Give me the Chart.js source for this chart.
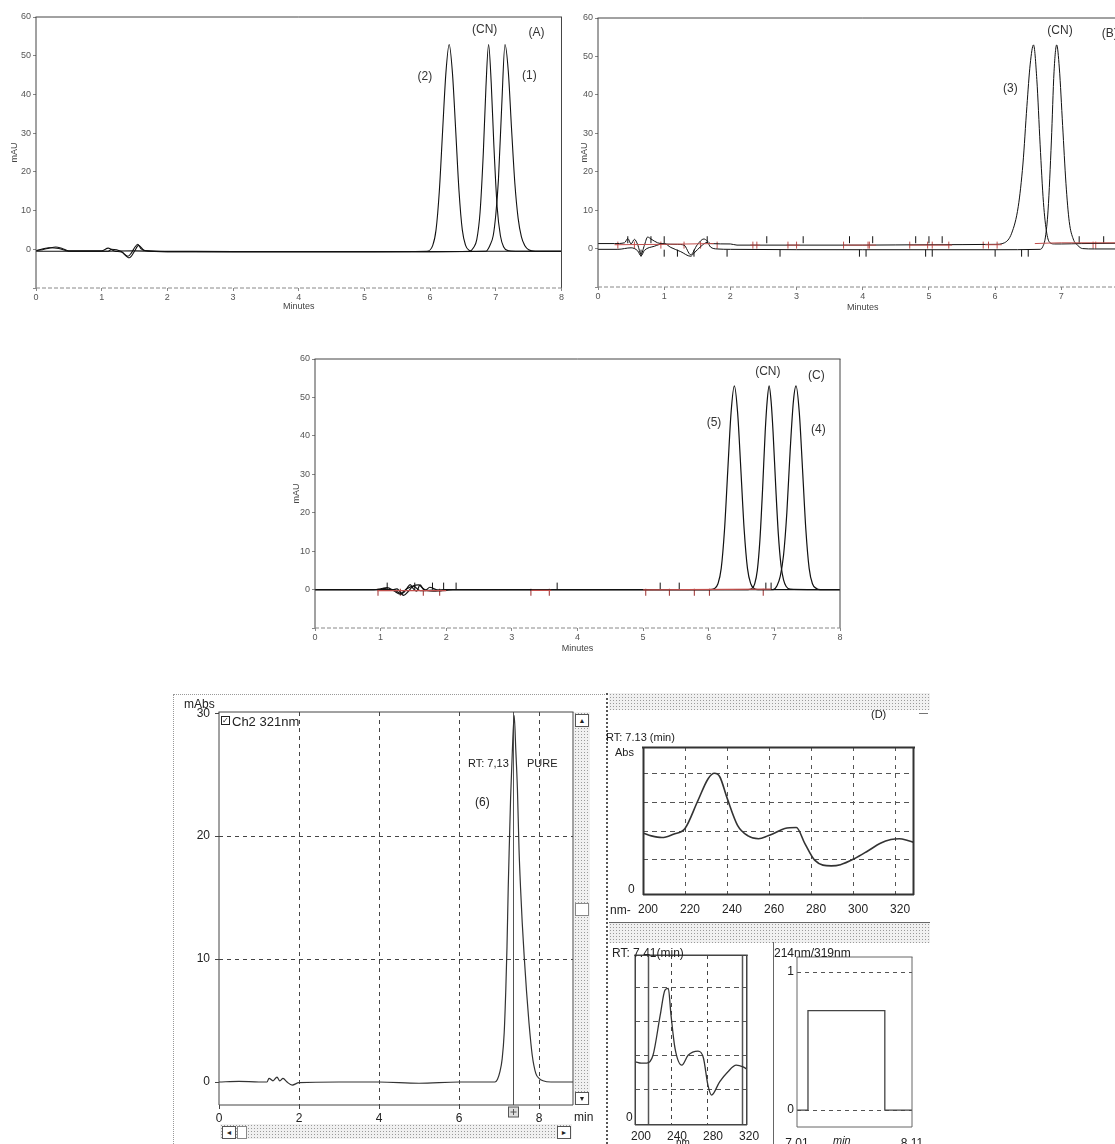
<!DOCTYPE html>
<html><head><meta charset="utf-8">
<script src="https://cdn.jsdelivr.net/npm/chart.js@4.4.0/dist/chart.umd.min.js"></script>
<style>
html,body{margin:0;padding:0;background:#fff;width:1115px;height:1144px;overflow:hidden;position:relative;font-family:'Liberation Sans',Arial,sans-serif;color:#222;}
canvas{position:absolute;z-index:2;}
.t{position:absolute;white-space:nowrap;z-index:3;line-height:1;}
.stip{position:absolute;z-index:1;background-color:#f0f0f0;background-image:radial-gradient(#9a9a9a 0.6px, transparent 0.9px);background-size:3px 3px;}
.ln{position:absolute;z-index:1;}
.btn{position:absolute;z-index:3;background:#fff;border:1px solid #555;font-size:7px;line-height:11px;text-align:center;color:#222;}
</style></head><body>

<canvas id="cA" width="565" height="320" style="left:0;top:0"></canvas>
<canvas id="cB" width="570" height="320" style="left:562px;top:0"></canvas>
<canvas id="cC" width="570" height="320" style="left:280px;top:340px"></canvas>
<canvas id="cD" width="450" height="454" style="left:160px;top:690px"></canvas>
<canvas id="cS1" width="323" height="226" style="left:607px;top:693px"></canvas>
<canvas id="cS2" width="166" height="202" style="left:607px;top:942px"></canvas>
<canvas id="cP" width="157" height="202" style="left:773px;top:942px"></canvas>

<!-- D window decorations -->
<div class="ln" style="left:173px;top:694px;width:434px;height:0;border-top:1px dotted #999"></div>
<div class="ln" style="left:173px;top:694px;width:0;height:450px;border-left:1px dotted #999"></div>
<div class="ln" style="left:606px;top:693px;width:0;height:451px;border-left:2px dotted #555"></div>
<div class="stip" style="left:574px;top:712px;width:16px;height:393px"></div>
<div class="btn" style="left:575px;top:714px;width:12px;height:11px">▲</div>
<div class="btn" style="left:575px;top:903px;width:12px;height:11px;border-color:#888"></div>
<div class="btn" style="left:575px;top:1092px;width:12px;height:11px">▼</div>
<div class="stip" style="left:220px;top:1124px;width:352px;height:15px"></div>
<div class="btn" style="left:222px;top:1126px;width:12px;height:11px">◄</div>
<div class="btn" style="left:237px;top:1126px;width:8px;height:11px;border-color:#888"></div>
<div class="btn" style="left:557px;top:1126px;width:12px;height:11px">►</div>
<div class="stip" style="left:609px;top:693px;width:321px;height:17px"></div>
<div class="stip" style="left:609px;top:922px;width:321px;height:20px;border-top:1px solid #666"></div>
<div class="ln" style="left:773px;top:942px;width:0;height:202px;border-left:1px solid #666"></div>

<div class="t" style="left:184px;top:698px;font-size:12px">mAbs</div>
<div class="t" style="left:221px;top:716px;width:7px;height:7px;border:1px solid #222;font-size:8px;line-height:7px;text-align:center">✓</div>
<div class="t" style="left:232px;top:715px;font-size:13px">Ch2 321nm</div>
<div class="t" style="left:468px;top:758px;font-size:11px">RT: 7,13</div>
<div class="t" style="left:527px;top:758px;font-size:11px">PURE</div>
<div class="t" style="left:475px;top:796px;font-size:12px">(6)</div>
<div class="t" style="left:574px;top:1111px;font-size:12px">min</div>
<div class="t" style="left:871px;top:709px;font-size:11px">(D)</div>
<div class="t" style="left:919px;top:709px;font-size:9px">—</div>
<div class="t" style="left:606px;top:732px;font-size:11px">RT: 7.13 (min)</div>
<div class="t" style="left:615px;top:747px;font-size:11px">Abs</div>
<div class="t" style="left:610px;top:904px;font-size:12px">nm-</div>
<div class="t" style="left:628px;top:883px;font-size:12px">0</div>
<div class="t" style="left:612px;top:947px;font-size:12px">RT: 7.41(min)</div>
<div class="t" style="left:774px;top:947px;font-size:12px">214nm/319nm</div>
<div class="t" style="left:626px;top:1111px;font-size:12px">0</div>
<div class="t" style="left:676px;top:1138px;font-size:10px">nm</div>
<div class="t" style="left:833px;top:1135px;font-size:11px;font-style:italic">min</div>

<script>
// ---------------- DATA ----------------
// Panel A (three overlaid chromatograms)
const aTimeP2 = [0, 0.1, 0.2, 0.3, 0.4, 0.5, 1.0, 1.1, 1.2, 1.3, 1.4, 1.45, 1.5, 1.55, 1.6, 1.7, 2, 3, 4, 5, 5.95, 6.04, 6.09, 6.14, 6.19, 6.24, 6.29, 6.34, 6.39, 6.44, 6.49, 6.54, 6.59, 6.65, 7, 8];
const aSigP2  = [-0.3, -0.1, 0.3, 0.6, 0.2, -0.4, -0.4, 0.3, -0.5, -0.7, -1.8, -1.0, 0.4, 1.3, 0.1, -0.4, -0.5, -0.6, -0.6, -0.6, -0.5, 1.0, 5.0, 15.0, 30.5, 45.5, 52.9, 45.5, 30.5, 15.0, 5.0, 1.0, -0.2, -0.5, -0.5, -0.5];
const aTimeCN = [0, 0.2, 0.35, 0.5, 1.1, 1.15, 1.3, 1.42, 1.5, 1.56, 1.65, 2, 4, 6, 6.6, 6.66, 6.71, 6.76, 6.81, 6.85, 6.89, 6.93, 6.97, 7.02, 7.07, 7.12, 7.18, 7.3, 8];
const aSigCN  = [-0.4, 0.4, 0.2, -0.5, -0.5, 0.0, -0.6, -2.2, -0.5, 1.0, -0.3, -0.6, -0.6, -0.6, -0.5, 0.4, 2.5, 9.5, 25.0, 42.0, 52.9, 43.0, 27.0, 11.0, 3.5, 0.6, -0.3, -0.5, -0.5];
const aTimeP1 = [0, 0.5, 1, 1.5, 2, 4, 6, 6.85, 6.91, 6.96, 7.0, 7.04, 7.09, 7.14, 7.19, 7.24, 7.29, 7.34, 7.39, 7.44, 7.5, 7.6, 8];
const aSigP1  = [-0.5, -0.5, -0.5, -0.4, -0.6, -0.6, -0.6, -0.5, 1.0, 3.5, 9.0, 18.0, 37.0, 52.9, 46.0, 31.0, 17.0, 8.0, 3.2, 1.0, -0.1, -0.5, -0.5];

// Panel B
const bTimeUp = [0, 0.25, 0.4, 0.45, 0.5, 0.55, 0.6, 0.65, 0.7, 0.75, 0.8, 0.9, 1.0, 1.2, 1.3, 1.4, 1.5, 1.6, 1.65, 1.7, 2.0, 2.1, 3, 4, 5, 6.0, 6.14, 6.25, 6.35, 6.42, 6.48, 6.53, 6.58, 6.63, 6.68, 6.73, 6.78, 6.83, 6.9, 7.0, 7.3, 8];
const bSigUp  = [1.3, 1.3, 1.5, 2.6, 1.2, 2.4, 1.0, -1.5, 0.8, 3.0, 2.5, 1.5, 1.2, 1.1, 0.9, -1.6, 1.0, 2.5, 2.0, 1.3, 1.2, 0.9, 0.9, 0.9, 1.0, 1.1, 1.5, 4.0, 11.0, 22.0, 37.0, 48.0, 53.0, 44.0, 27.0, 12.0, 4.0, 1.5, 1.2, 1.2, 1.3, 1.4];
const bTimeLo = [0, 0.3, 0.5, 0.6, 0.65, 0.7, 0.85, 1.0, 1.1, 1.25, 1.4, 1.45, 1.55, 1.65, 1.7, 1.8, 2, 4, 6, 6.68, 6.72, 6.76, 6.8, 6.85, 6.89, 6.93, 6.97, 7.02, 7.07, 7.12, 7.18, 7.25, 7.32, 7.5, 8];
const bSigLo  = [-0.2, -0.2, 0.2, -0.6, -1.9, -0.5, 0.6, 1.3, 0.3, -0.8, -2.0, -1.2, 0.5, 1.6, 0.4, -0.1, -0.2, -0.3, -0.3, -0.2, 0.5, 3.0, 10.0, 28.0, 46.0, 53.0, 47.0, 32.0, 17.0, 7.0, 2.5, 0.8, 0.0, -0.1, -0.1];
const bRedTime = [0.25, 1.0, 1.75, 1.76, 2.3, 2.45, 2.46, 2.85, 3.05, 3.06, 3.7, 4.2, 4.21, 4.7, 5.35, 5.36, 5.85, 6.1, 6.11, 6.6, 7.0, 8];
const bRedSig  = [1.0, 1.1, 1.3, null, 0.9, 0.9, null, 0.9, 0.9, null, 0.9, 0.9, null, 0.9, 0.9, null, 1.0, 1.0, null, 1.3, 1.5, 1.5];
const bTickUpTime   = [0.45, 0.8, 1.0, 1.65, 2.55, 3.1, 3.8, 4.15, 4.8, 5.0, 5.2, 7.27, 7.64];
const bTickDownTime = [0.65, 1.0, 1.2, 1.45, 1.95, 2.75, 3.95, 4.05, 4.95, 5.05, 6.0, 6.4, 6.5];
const bTickRedTime  = [0.3, 0.55, 0.95, 1.3, 1.55, 1.8, 2.34, 2.4, 2.87, 3.0, 3.71, 4.08, 4.1, 4.71, 4.98, 5.05, 5.3, 5.82, 5.9, 6.03, 7.48, 7.52];

// Panel C
const cTime5 = [0, 0.9, 1.0, 1.1, 1.2, 1.3, 1.35, 1.4, 1.45, 1.5, 1.55, 1.6, 1.65, 1.7, 1.8, 2.0, 2.1, 3, 4, 5, 6.0, 6.09, 6.14, 6.19, 6.24, 6.29, 6.34, 6.39, 6.44, 6.49, 6.54, 6.59, 6.64, 6.69, 6.75, 7, 8];
const cSig5  = [0, 0, 0.2, 0.5, -0.3, -1.2, -0.8, 0.3, 1.3, 0.2, -0.4, 1.2, 0.2, -0.2, -0.4, -0.2, 0, 0, 0, 0, 0, 0.3, 1.5, 5.5, 15.5, 31.0, 46.0, 53.0, 46.0, 31.0, 15.5, 5.5, 1.5, 0.3, 0, 0, 0];
const cTimeCN = [0, 1.2, 1.3, 1.4, 1.5, 1.6, 2, 4, 6.6, 6.66, 6.7, 6.74, 6.78, 6.82, 6.86, 6.89, 6.92, 6.95, 6.98, 7.02, 7.06, 7.1, 7.14, 7.18, 7.24, 7.5, 8];
const cSigCN  = [0, 0, -1.0, 0.2, 0.9, -0.3, 0, 0, 0, 0.3, 1.5, 5.0, 13.0, 26.0, 41.0, 49.0, 53.0, 49.0, 41.0, 27.0, 14.5, 6.5, 2.5, 0.8, 0.1, 0, 0];
const cTime4 = [0, 1.0, 1.05, 1.15, 1.25, 1.35, 1.42, 1.5, 1.58, 1.68, 1.75, 1.9, 2.0, 4, 6.98, 7.04, 7.09, 7.14, 7.19, 7.24, 7.29, 7.33, 7.38, 7.43, 7.48, 7.53, 7.58, 7.64, 7.7, 8];
const cSig4  = [0, 0, 0.3, -0.2, 0.2, -1.5, -0.5, 1.0, 1.2, -0.2, 0.6, -0.3, 0, 0, 0, 1.0, 3.5, 9.0, 20.0, 36.0, 49.0, 53.0, 46.0, 31.0, 15.5, 5.5, 1.5, 0.3, 0, 0];
const cRedTime = [0.95, 2.0, 2.01, 3.3, 3.6, 3.61, 5.0, 6.95];
const cRedSig  = [-0.3, -0.3, null, -0.2, -0.2, null, -0.1, 0.1];
const cTickBlackTime = [1.1, 1.52, 1.79, 1.96, 2.15, 3.69, 5.26, 5.55, 6.87, 6.95];
const cTickRedTime   = [0.96, 1.3, 1.65, 1.9, 3.29, 3.57, 5.04, 5.4, 5.78, 6.01, 6.83];

const chromXTicks = [0, 1, 2, 3, 4, 5, 6, 7, 8];
const chromYTicks = [-10, 0, 10, 20, 30, 40, 50, 60];

// Panel D main chromatogram (Ch2 321nm)
const dTime = [0, 0.5, 1.0, 1.2, 1.25, 1.35, 1.45, 1.52, 1.6, 1.7, 1.83, 2.0, 3, 4, 5, 6, 6.9, 6.96, 7.02, 7.08, 7.13, 7.17, 7.2, 7.23, 7.26, 7.29, 7.33, 7.38, 7.42, 7.46, 7.5, 7.54, 7.58, 7.63, 7.69, 7.75, 7.83, 7.92, 8.0, 8.1, 8.3, 8.85];
const dAbs  = [0, 0.05, 0, 0, 0.3, 0.1, 0.4, 0.1, 0.3, 0, -0.25, -0.05, 0, 0, -0.1, 0, 0, 0.2, 0.8, 1.9, 4.0, 7.5, 11.0, 15.7, 19.5, 23.1, 26.6, 29.8, 27.0, 23.9, 19.0, 15.7, 13.0, 10.2, 7.3, 4.8, 2.2, 0.7, 0.3, 0.1, 0, 0];
const dXTicks = [0, 2, 4, 6, 8];
const dYTicks = [0, 10, 20, 30];
const dRetention = 7.36;

// Panel D spectrum at RT 7.13
const s1Wave = [200, 204, 209, 214.5, 220, 226, 231, 234, 236.6, 240, 245, 250, 255, 259.5, 262.7, 267.5, 273, 277, 281.7, 289.6, 294, 300.6, 307, 313, 318, 322, 326, 329];
const s1Abs  = [1.93, 1.83, 1.77, 1.89, 2.09, 3.04, 3.83, 4.02, 3.89, 3.16, 2.2, 1.83, 1.73, 1.83, 1.93, 2.09, 2.12, 1.57, 0.98, 0.78, 0.82, 1.03, 1.3, 1.57, 1.7, 1.73, 1.67, 1.6];
const s1XTicks = [200, 220, 240, 260, 280, 300, 320];
const s1YTicks = [1, 2, 3, 4];

// Panel D spectrum at RT 7.41
const s2Wave = [200.5, 207, 213, 220, 228, 233.3, 237, 240, 244.4, 252, 259, 270, 276, 281, 285, 294, 303, 312.4, 320, 324.4];
const s2Abs  = [1.82, 1.78, 1.78, 2.01, 3.19, 3.93, 3.98, 3.19, 2.22, 1.72, 2.01, 2.13, 1.93, 1.13, 0.84, 1.23, 1.52, 1.72, 1.67, 1.6];
const s2XTicks = [200, 240, 280, 320];
const s2YTicks = [1, 2, 3, 4];
const purityWaves = [214, 319];

// Panel D purity plot 214nm/319nm
const pTime  = [7.01, 7.115, 7.115, 7.85, 7.85, 8.11];
const pRatio = [0, 0, 0.72, 0.72, 0, 0];
const pXTicks = [7.01, 8.11];
const pXLabels = ['7.01', '8.11'];
const pYTicks = [0, 1];

// ---------------- HELPERS ----------------
const pts = (xs, ys) => xs.map((x, i) => ({x: x, y: ys[i]}));
const level = (xs, v) => xs.map(x => ({x: x, y: v}));
const setTicks = arr => (s => { s.ticks = arr.map(v => ({value: v})); });

Chart.defaults.font.family = "'Liberation Sans', Arial, sans-serif";

const framePlugin = {
  id: 'frame',
  afterDraw(chart, args, o) {
    if (!o || !o.sides) return;
    const {ctx, chartArea: a} = chart;
    ctx.save();
    const seg = (style, col, w, x1, y1, x2, y2) => {
      if (!style) return;
      ctx.strokeStyle = col; ctx.lineWidth = w;
      ctx.setLineDash(style === 'dash' ? (o.dash || [4, 2]) : []);
      ctx.beginPath(); ctx.moveTo(x1, y1); ctx.lineTo(x2, y2); ctx.stroke();
    };
    const w = o.width || 1, c = o.color || '#333';
    const h = w / 2;
    seg(o.sides.top, c, w, a.left - h, a.top + h - 0.5, a.right + h, a.top + h - 0.5);
    seg(o.sides.right, c, w, a.right - h + 0.5, a.top, a.right - h + 0.5, a.bottom);
    seg(o.sides.left, c, w, a.left + h - 0.5, a.top, a.left + h - 0.5, a.bottom);
    seg(o.sides.bottom, o.bottomColor || c, w, a.left, a.bottom - h + 0.5, a.right, a.bottom - h + 0.5);
    ctx.restore();
  }
};
const annotPlugin = {
  id: 'annot',
  afterDatasetsDraw(chart, args, o) {
    if (!o || !o.items) return;
    const {ctx, scales: {x, y}} = chart;
    ctx.save();
    ctx.fillStyle = o.color || '#333';
    ctx.font = o.font || "12px 'Liberation Sans', Arial, sans-serif";
    ctx.textAlign = 'center'; ctx.textBaseline = 'middle';
    o.items.forEach(it => ctx.fillText(it.t, x.getPixelForValue(it.x), y.getPixelForValue(it.y)));
    ctx.restore();
  }
};
const vlinePlugin = {
  id: 'vlines',
  beforeDatasetsDraw(chart, args, o) {
    if (!o || !o.values) return;
    const {ctx, chartArea: a, scales: {x}} = chart;
    ctx.save();
    ctx.strokeStyle = o.color || '#444'; ctx.lineWidth = o.width || 1;
    o.values.forEach(v => {
      const px = Math.round(x.getPixelForValue(v)) + 0.5;
      ctx.beginPath(); ctx.moveTo(px, a.top); ctx.lineTo(px, a.bottom); ctx.stroke();
      if (o.box) {
        ctx.fillStyle = '#ddd';
        ctx.fillRect(px - 5, a.bottom + 2, 10, 10);
        ctx.strokeRect(px - 5, a.bottom + 2, 10, 10);
        ctx.beginPath(); ctx.moveTo(px - 3, a.bottom + 7); ctx.lineTo(px + 3, a.bottom + 7);
        ctx.moveTo(px, a.bottom + 4); ctx.lineTo(px, a.bottom + 10); ctx.stroke();
      }
    });
    ctx.restore();
  }
};
Chart.register(framePlugin, annotPlugin, vlinePlugin);

const lineDS = (data, color, width) => ({data: data, borderColor: color, borderWidth: width, pointRadius: 0, fill: false, cubicInterpolationMode: 'monotone', spanGaps: false});
const tickDS = (data, color) => ({data: data, showLine: false, pointStyle: 'line', pointRotation: 90, pointRadius: 3.5, pointBorderWidth: 1, pointBorderColor: color, borderColor: color, pointHoverRadius: 0});

function chromOptions(p) {
  return {
    responsive: false, animation: false, devicePixelRatio: 1, events: [],
    layout: {padding: {left: 0, top: p.padTop, right: p.padRight, bottom: 0}},
    plugins: {
      legend: {display: false}, tooltip: {enabled: false},
      frame: {sides: {top: 'solid', right: 'solid', left: 'solid', bottom: 'dash'}, color: '#444', bottomColor: '#888', dash: [4, 2]},
      annot: {items: p.labels, color: '#333'}
    },
    scales: {
      x: {type: 'linear', min: 0, max: 8, afterBuildTicks: setTicks(chromXTicks), afterFit: s => { s.height = p.xH; },
          grid: {drawOnChartArea: false, tickLength: 3, color: '#888'}, border: {display: false},
          ticks: {font: {size: 9}, color: '#555', padding: 1, maxRotation: 0, autoSkip: false},
          title: {display: true, text: 'Minutes', font: {size: 9}, color: '#444', padding: {top: 0, bottom: p.xTitlePad}}},
      y: {type: 'linear', min: -10, max: 60, afterBuildTicks: setTicks(chromYTicks), afterFit: s => { s.width = p.yW; },
          grid: {drawOnChartArea: false, tickLength: 3, color: '#888'}, border: {display: false},
          ticks: {font: {size: 9}, color: '#555', padding: 2, callback: v => (v < 0 ? '' : String(v))},
          title: {display: true, text: 'mAU', font: {size: 9}, color: '#444', padding: {top: p.yTitlePad, bottom: 0}}}
    }
  };
}

// ---------------- PANEL A ----------------
new Chart(document.getElementById('cA'), {
  type: 'line',
  data: {datasets: [
    lineDS(pts(aTimeP2, aSigP2), '#111', 1.1),
    lineDS(pts(aTimeCN, aSigCN), '#111', 1.1),
    lineDS(pts(aTimeP1, aSigP1), '#111', 1.1)
  ]},
  options: chromOptions({padTop: 17, padRight: 3, xH: 32, yW: 36, xTitlePad: 7.6, yTitlePad: 9.6,
    labels: [{t: '(2)', x: 5.92, y: 44.6}, {t: '(CN)', x: 6.83, y: 56.7}, {t: '(A)', x: 7.62, y: 55.9}, {t: '(1)', x: 7.51, y: 44.8}]})
});

// ---------------- PANEL B ----------------
new Chart(document.getElementById('cB'), {
  type: 'line',
  data: {datasets: [
    lineDS(pts(bRedTime, bRedSig), '#c0504d', 1),
    lineDS(pts(bTimeUp, bSigUp), '#111', 1),
    lineDS(pts(bTimeLo, bSigLo), '#111', 1),
    tickDS(level(bTickUpTime, 2.3), '#111'),
    tickDS(level(bTickDownTime, -1.2), '#111'),
    tickDS(level(bTickRedTime, 0.9), '#c0504d')
  ]},
  options: chromOptions({padTop: 18, padRight: 4, xH: 33, yW: 36, xTitlePad: 6.6, yTitlePad: 17,
    labels: [{t: '(3)', x: 6.23, y: 41.6}, {t: '(CN)', x: 6.98, y: 56.8}, {t: '(B)', x: 7.73, y: 56}]})
});

// ---------------- PANEL C ----------------
new Chart(document.getElementById('cC'), {
  type: 'line',
  data: {datasets: [
    lineDS(pts(cRedTime, cRedSig), '#c0504d', 1.2),
    lineDS(pts(cTime5, cSig5), '#111', 1.2),
    lineDS(pts(cTimeCN, cSigCN), '#111', 1.2),
    lineDS(pts(cTime4, cSig4), '#111', 1.2),
    tickDS(level(cTickBlackTime, 0.9), '#111'),
    tickDS(level(cTickRedTime, -0.7), '#9c2b2b')
  ]},
  options: chromOptions({padTop: 19, padRight: 10, xH: 32, yW: 35, xTitlePad: 5.6, yTitlePad: 11.6,
    labels: [{t: '(5)', x: 6.08, y: 43.4}, {t: '(CN)', x: 6.9, y: 56.7}, {t: '(C)', x: 7.64, y: 55.6}, {t: '(4)', x: 7.67, y: 41.6}]})
});

// ---------------- PANEL D main ----------------
new Chart(document.getElementById('cD'), {
  type: 'line',
  data: {datasets: [lineDS(pts(dTime, dAbs), '#333', 1.2)]},
  options: {
    responsive: false, animation: false, devicePixelRatio: 1, events: [],
    layout: {padding: {left: 0, top: 22, right: 37, bottom: 0}},
    plugins: {legend: {display: false}, tooltip: {enabled: false},
      frame: {sides: {top: 'solid', right: 'solid', left: 'solid', bottom: 'solid'}, color: '#444'},
      vlines: {values: [dRetention], color: '#555', box: true}},
    scales: {
      x: {type: 'linear', min: 0, max: 8.85, afterBuildTicks: setTicks(dXTicks), afterFit: s => { s.height = 39; },
          grid: {color: c => (c.tick && c.tick.value > 0 ? '#444' : 'rgba(0,0,0,0)'), tickColor: '#444', tickLength: 4},
          border: {display: false, dash: [4, 4]},
          ticks: {font: {size: 12}, color: '#222', padding: 2, maxRotation: 0, autoSkip: false}},
      y: {type: 'linear', min: -1.87, max: 30.1, afterBuildTicks: setTicks(dYTicks), afterFit: s => { s.width = 59; },
          grid: {color: c => (c.tick && (c.tick.value === 10 || c.tick.value === 20) ? '#444' : 'rgba(0,0,0,0)'), tickColor: '#444', tickLength: 4},
          border: {display: false, dash: [4, 4]},
          ticks: {font: {size: 12}, color: '#222', padding: 5}}
    }
  }
});

// ---------------- PANEL D spectrum 1 ----------------
new Chart(document.getElementById('cS1'), {
  type: 'line',
  data: {datasets: [lineDS(pts(s1Wave, s1Abs), '#333', 1.6)]},
  options: {
    responsive: false, animation: false, devicePixelRatio: 1, events: [],
    layout: {padding: {left: 0, top: 54, right: 16, bottom: 0}},
    plugins: {legend: {display: false}, tooltip: {enabled: false},
      frame: {sides: {top: 'solid', right: 'solid', left: 'solid', bottom: 'solid'}, color: '#333', width: 2}},
    scales: {
      x: {type: 'linear', min: 200, max: 329, afterBuildTicks: setTicks(s1XTicks), afterFit: s => { s.height = 24; },
          grid: {color: c => (c.tick && c.tick.value > 200 ? '#555' : 'rgba(0,0,0,0)'), drawTicks: false},
          border: {display: false, dash: [4, 5]},
          ticks: {font: {size: 12}, color: '#222', padding: 7, labelOffset: 5, maxRotation: 0, autoSkip: false}},
      y: {type: 'linear', min: -0.24, max: 4.94, afterBuildTicks: setTicks(s1YTicks), afterFit: s => { s.width = 36; },
          grid: {color: '#555', drawTicks: false}, border: {display: false, dash: [5, 4]},
          ticks: {display: false}}
    }
  }
});

// ---------------- PANEL D spectrum 2 ----------------
new Chart(document.getElementById('cS2'), {
  type: 'line',
  data: {datasets: [lineDS(pts(s2Wave, s2Abs), '#333', 1.3)]},
  options: {
    responsive: false, animation: false, devicePixelRatio: 1, events: [],
    layout: {padding: {left: 0, top: 13, right: 26, bottom: 0}},
    plugins: {legend: {display: false}, tooltip: {enabled: false},
      frame: {sides: {top: 'solid', right: 'solid', left: 'solid', bottom: 'solid'}, color: '#444', width: 1.5},
      vlines: {values: purityWaves, color: '#555', width: 1.5}},
    scales: {
      x: {type: 'linear', min: 200, max: 324.4, afterBuildTicks: setTicks(s2XTicks), afterFit: s => { s.height = 19; },
          grid: {color: c => (c.tick && (c.tick.value === 240 || c.tick.value === 280) ? '#444' : 'rgba(0,0,0,0)'), drawTicks: false},
          border: {display: false, dash: [4, 4]},
          ticks: {font: {size: 12}, color: '#222', padding: 4, labelOffset: 6, maxRotation: 0, autoSkip: false}},
      y: {type: 'linear', min: -0.04, max: 4.96, afterBuildTicks: setTicks(s2YTicks), afterFit: s => { s.width = 28; },
          grid: {color: '#555', drawTicks: false}, border: {display: false, dash: [5, 4]},
          ticks: {display: false}}
    }
  }
});

// ---------------- PANEL D purity ratio ----------------
new Chart(document.getElementById('cP'), {
  type: 'line',
  data: {datasets: [{data: pts(pTime, pRatio), borderColor: '#444', borderWidth: 1.3, pointRadius: 0, tension: 0, fill: false}]},
  options: {
    responsive: false, animation: false, devicePixelRatio: 1, events: [],
    layout: {padding: {left: 0, top: 15, right: 18, bottom: 0}},
    plugins: {legend: {display: false}, tooltip: {enabled: false},
      frame: {sides: {top: 'solid', right: 'solid', left: 'solid', bottom: 'solid'}, color: '#666', width: 1}},
    scales: {
      x: {type: 'linear', min: 7.01, max: 8.11, afterBuildTicks: setTicks(pXTicks), afterFit: s => { s.height = 17; },
          grid: {display: false}, border: {display: false},
          ticks: {font: {size: 12}, color: '#222', padding: 1, maxRotation: 0, autoSkip: false, callback: (v, i) => pXLabels[i]}},
      y: {type: 'linear', min: -0.123, max: 1.109, afterBuildTicks: setTicks(pYTicks), afterFit: s => { s.width = 24; },
          grid: {color: '#555', drawTicks: false}, border: {display: false, dash: [4, 4]},
          ticks: {font: {size: 12}, color: '#222', padding: 3}}
    }
  }
});
</script>
</body></html>
